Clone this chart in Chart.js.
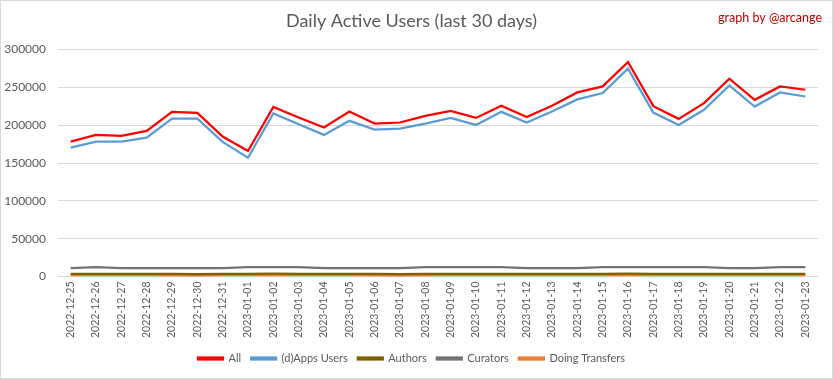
<!DOCTYPE html>
<html><head><meta charset="utf-8">
<script src="https://cdn.jsdelivr.net/npm/chart.js@4/dist/chart.umd.min.js"></script>
<style>
html,body{margin:0;padding:0;background:#fff;}
#wrap{position:absolute;left:0;top:0;width:831px;height:377px;border:1px solid #d9d9d9;}
</style></head>
<body><div id="wrap"><canvas id="c" width="831" height="377"></canvas></div>
<script>
const categories = ["2022-12-25","2022-12-26","2022-12-27","2022-12-28","2022-12-29","2022-12-30","2022-12-31","2023-01-01","2023-01-02","2023-01-03","2023-01-04","2023-01-05","2023-01-06","2023-01-07","2023-01-08","2023-01-09","2023-01-10","2023-01-11","2023-01-12","2023-01-13","2023-01-14","2023-01-15","2023-01-16","2023-01-17","2023-01-18","2023-01-19","2023-01-20","2023-01-21","2023-01-22","2023-01-23"];
const allUsers = [178300,187200,186000,192500,217700,216400,185000,166000,224300,210200,196900,218200,202200,203600,212400,219000,209700,225700,211000,225700,243400,251300,283600,225200,208400,229200,261500,233600,251300,246900];
const appsUsers = [170300,178300,178300,183600,208800,208800,178000,157000,215500,201400,187200,205800,194300,195600,202200,209700,200400,217700,203600,218200,234100,242500,274800,216800,200400,220400,252600,224700,243400,238000];
const authors = [3500,3600,3500,3500,3400,3200,3400,3600,3700,3600,3500,3500,3400,3200,3300,3500,3600,3600,3500,3500,3600,3600,3700,3600,3500,3500,3600,3500,3600,3600];
const curators = [11200,12300,11200,11100,11100,11100,11200,12300,12400,12300,11200,11100,11100,11100,12300,12400,12300,12400,11200,11100,11100,12300,12400,12400,12400,12300,11200,11100,12300,12400];
const transfers = [1300,1500,1400,1400,1200,900,1300,1500,1500,1500,1400,1400,1200,900,1100,1400,1500,1500,1400,1400,1500,1500,1500,1500,1400,1400,1500,1400,1500,1500];
const yTicks = [0,50000,100000,150000,200000,250000,300000];

const FONT = "Lato, 'Open Sans', sans-serif";
function ds(label, data, color, width){
  return {label, data, borderColor: color, backgroundColor: color, borderWidth: width,
    pointRadius: 0, pointHoverRadius: 0, tension: 0, fill: false};
}
const credit = {
  id: 'credit',
  afterDraw(chart){
    const ctx = chart.ctx;
    ctx.save();
    ctx.fillStyle = '#c00000';
    ctx.font = "12.5px " + FONT;
    ctx.textAlign = 'right';
    ctx.textBaseline = 'middle';
    ctx.fillText('graph by @arcange', 821, 17);
    ctx.restore();
  }
};
new Chart(document.getElementById('c'), {
  type: 'line',
  data: {
    labels: categories,
    datasets: [
      ds('All', allUsers, '#ff0000', 2.25),
      ds('(d)Apps Users', appsUsers, '#5b9bd5', 2.25),
      ds('Authors', authors, '#7f6000', 2.25),
      ds('Curators', curators, '#767171', 2.25),
      ds('Doing Transfers', transfers, '#ed7d31', 2.25)
    ]
  },
  options: {
    responsive: false,
    animation: false,
    layout: {padding: {left: 4, right: 14, top: 0, bottom: 4}},
    plugins: {
      title: {display: true, text: 'Daily Active Users (last 30 days)', color: '#595959',
        font: {family: FONT, size: 18, weight: 'normal'}, padding: {top: 9, bottom: 18}},
      legend: {position: 'bottom', labels: {color: '#595959', font: {family: FONT, size: 11},
        boxWidth: 25, boxHeight: 2, padding: 10}},
      tooltip: {enabled: false}
    },
    scales: {
      x: {
        offset: true,
        grid: {display: false, drawTicks: false},
        border: {display: false},
        ticks: {color: '#595959', font: {family: FONT, size: 10.5}, minRotation: 90, maxRotation: 90, autoSkip: false, padding: 5},
        afterFit(axis){ axis.paddingLeft = 0; axis.paddingRight = 0; }
      },
      y: {
        min: 0, max: 300000,
        afterBuildTicks(axis){ axis.ticks = yTicks.map(v => ({value: v})); },
        afterFit(axis){ axis.width = 53; },
        grid: {color: '#d9d9d9', drawTicks: false, lineWidth: 1},
        border: {display: false},
        ticks: {color: '#595959', font: {family: FONT, size: 12}, padding: 12,
          callback: v => String(v)}
      }
    }
  },
  plugins: [credit]
});
</script></body></html>
